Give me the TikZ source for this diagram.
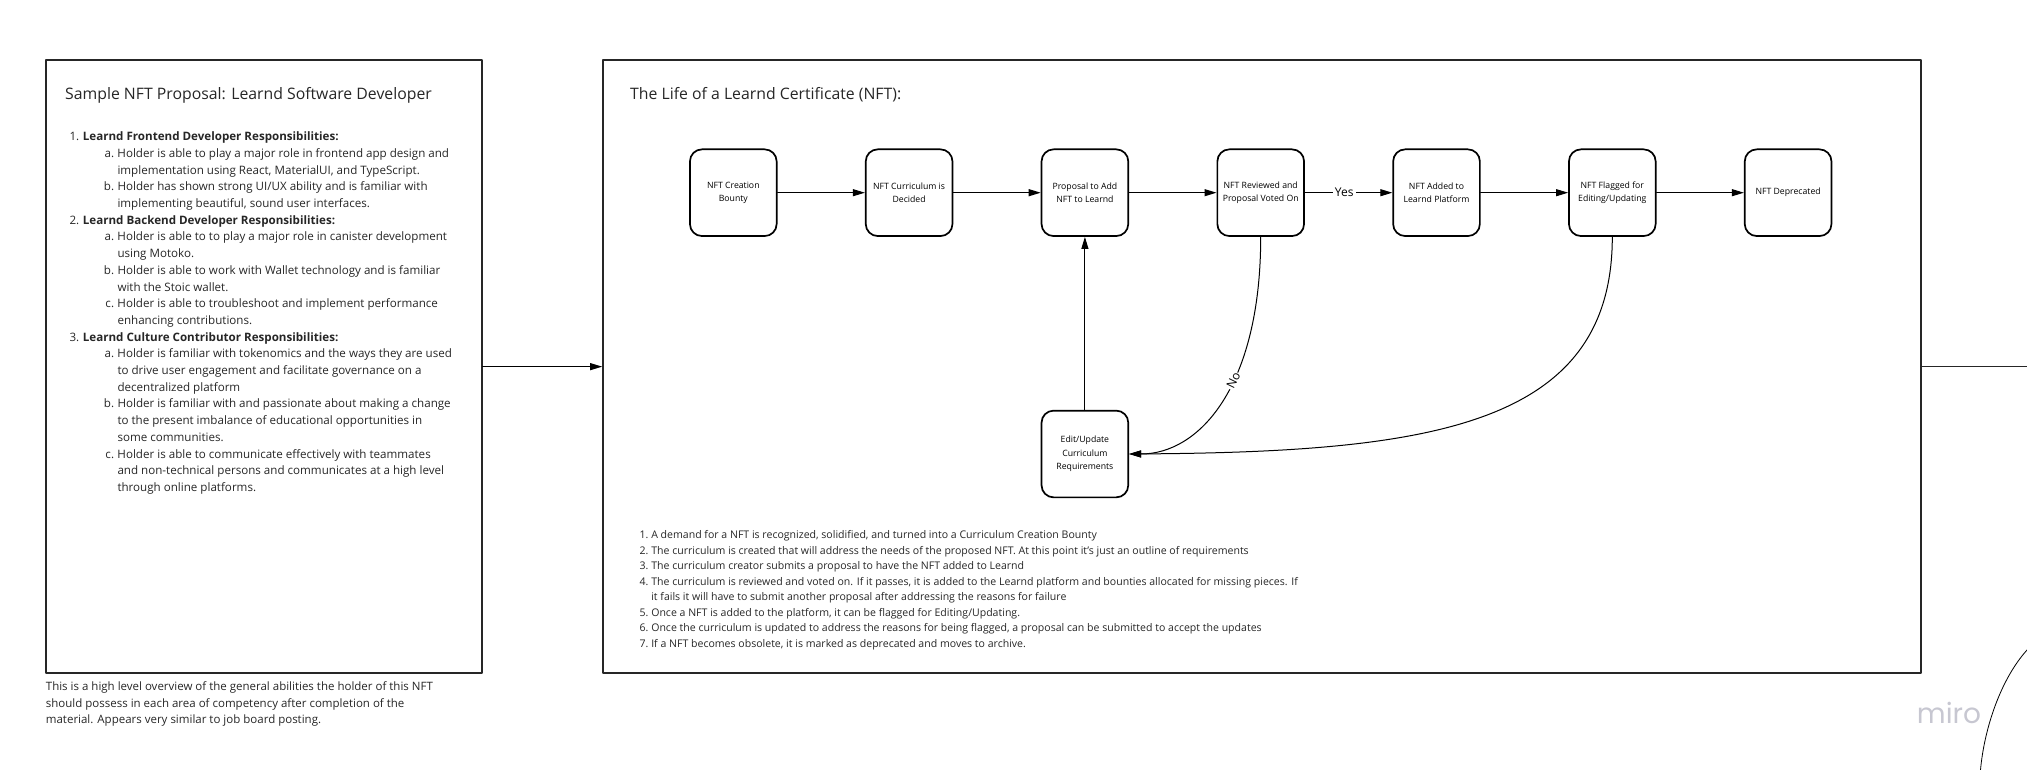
\documentclass[tikz,border=0pt]{standalone}
\usepackage{fontspec}
\setmainfont{Open Sans}
\newfontfamily\logofont{Poppins}
\usetikzlibrary{arrows.meta}
\definecolor{inkgray}{rgb}{0.15,0.15,0.15}
\definecolor{mirogray}{rgb}{0.78,0.78,0.82}
\newcommand{\toplvl}[2]{\makebox[13.4pt][l]{#1}#2}
\newcommand{\sublvl}[2]{\makebox[48pt][r]{#1\hspace{3.4pt}}#2}
\newcommand{\contlvl}[1]{\hspace*{48pt}#1}
\newcommand{\noteitem}[2]{\makebox[11.6pt][l]{#1}#2}

\begin{document}
\begin{tikzpicture}[line cap=round,line join=round,>={Triangle[length=12pt,width=7pt]},x=1pt,y=-1pt,
  panel/.style={draw=inkgray,line width=1.7pt,minimum width=#1,minimum height=613.3pt,inner sep=0pt},
  stage/.style={draw=black,line width=1.7pt,rounded corners=12pt,minimum width=86.7pt,minimum height=86.7pt,inner sep=0pt,align=center,font=\fontsize{8.7}{13.3}\selectfont},
  link/.style={->,line width=1pt,draw=black},
  tag/.style={fill=white,inner sep=2pt,font=\fontsize{12}{14}\selectfont},
  heading/.style={anchor=base west,inner sep=0pt,text=inkgray,font=\fontsize{15.8}{19}\selectfont},
  prose/.style={anchor=north west,inner sep=0pt,align=left,text=inkgray}]
\path[use as bounding box] (0,0) rectangle (2027,770);
\clip (0,0) rectangle (2027,770);
% panels
\node[panel=436pt] (sample) at (263.85,366.65) {};
\node[panel=1318pt] (lifecycle) at (1262,366.65) {};
\node[heading] (sampletitle) at (65,100) {Sample NFT Proposal: Learnd Software Developer};
\node[heading] (lifetitle) at (630,99.3) {The Life of a Learnd Certificate (NFT):};
% stages of the certificate
\node[stage] (bounty) at (733.3,192.7) {NFT Creation\\Bounty};
\node[stage] (decided) at (909.1,192.7) {NFT Curriculum is\\Decided};
\node[stage] (proposal) at (1084.9,192.7) {Proposal to Add\\NFT to Learnd};
\node[stage] (reviewed) at (1260.7,192.7) {NFT Reviewed and\\Proposal Voted On};
\node[stage] (added) at (1436.5,192.7) {NFT Added to\\Learnd Platform};
\node[stage] (flagged) at (1612.3,192.7) {NFT Flagged for\\Editing/Updating};
\node[stage] (deprecated) at (1788.1,192.7) {NFT Deprecated};
\node[stage] (edit) at (1084.9,454) {Edit/Update\\Curriculum\\Requirements};
\draw[link] (bounty) -- (decided);
\draw[link] (decided) -- (proposal);
\draw[link] (proposal) -- (reviewed);
\draw[link] (reviewed) -- node[tag,pos=0.45] (yes) {Yes} (added);
\draw[link] (added) -- (flagged);
\draw[link] (flagged) -- (deprecated);
\draw[link] (edit) -- (proposal);
\draw[link] (reviewed.south) .. controls +(0,150) and +(70,0) .. node[tag,sloped,pos=0.41,inner sep=1pt] (no) {No} (edit.east);
\draw[link] (flagged.south) .. controls +(0,190) and +(300,-2) .. (edit.east);
% panel to panel
\coordinate (offpage) at (2027,366.65);
\draw[link] (sample) -- (lifecycle);
\draw[line width=1pt,draw=inkgray] (lifecycle) -- (offpage);
\draw[line width=0.8pt] (1980.5,770) .. controls (1984,730) and (2000,680) .. (2027,650);
% texts
\node[prose,font=\fontsize{11.6}{16.7}\selectfont] (duties) at (69.3,131.7) {%
\toplvl{1.}{\textbf{Learnd Frontend Developer Responsibilities:}}\\
\sublvl{a.}{Holder is able to play a major role in frontend app design and}\\
\contlvl{implementation using React, MaterialUI, and TypeScript.}\\
\sublvl{b.}{Holder has shown strong UI/UX ability and is familiar with}\\
\contlvl{implementing beautiful, sound user interfaces.}\\
\toplvl{2.}{\textbf{Learnd Backend Developer Responsibilities:}}\\
\sublvl{a.}{Holder is able to to play a major role in canister development}\\
\contlvl{using Motoko.}\\
\sublvl{b.}{Holder is able to work with Wallet technology and is familiar}\\
\contlvl{with the Stoic wallet.}\\
\sublvl{c.}{Holder is able to troubleshoot and implement performance}\\
\contlvl{enhancing contributions.}\\
\toplvl{3.}{\textbf{Learnd Culture Contributor Responsibilities:}}\\
\sublvl{a.}{Holder is familiar with tokenomics and the ways they are used}\\
\contlvl{to drive user engagement and facilitate governance on a}\\
\contlvl{decentralized platform}\\
\sublvl{b.}{Holder is familiar with and passionate about making a change}\\
\contlvl{to the present imbalance of educational opportunities in}\\
\contlvl{some communities.}\\
\sublvl{c.}{Holder is able to communicate effectively with teammates}\\
\contlvl{and non-technical persons and communicates at a high level}\\
\contlvl{through online platforms.}};
\node[prose,font=\fontsize{11.5}{16.2}\selectfont] (overview) at (45.7,681.9) {%
This is a high level overview of the general abilities the holder of this NFT\\
should possess in each area of competency after completion of the\\
material. Appears very similar to job board posting.};
\node[prose,font=\fontsize{10.55}{15.5}\selectfont] (steps) at (639.5,530.5) {%
\noteitem{1.}{A demand for a NFT is recognized, solidified, and turned into a Curriculum Creation Bounty}\\
\noteitem{2.}{The curriculum is created that will address the needs of the proposed NFT. At this point it's just an outline of requirements}\\
\noteitem{3.}{The curriculum creator submits a proposal to have the NFT added to Learnd}\\
\noteitem{4.}{The curriculum is reviewed and voted on. If it passes, it is added to the Learnd platform and bounties allocated for missing pieces. If}\\
\noteitem{}{it fails it will have to submit another proposal after addressing the reasons for failure}\\
\noteitem{5.}{Once a NFT is added to the platform, it can be flagged for Editing/Updating.}\\
\noteitem{6.}{Once the curriculum is updated to address the reasons for being flagged, a proposal can be submitted to accept the updates}\\
\noteitem{7.}{If a NFT becomes obsolete, it is marked as deprecated and moves to archive.}};
\node[anchor=base west,inner sep=0pt,text=mirogray,font=\logofont\fontsize{28}{30}\selectfont] (logo) at (1916.7,723.3) {miro};
\end{tikzpicture}
\end{document}
